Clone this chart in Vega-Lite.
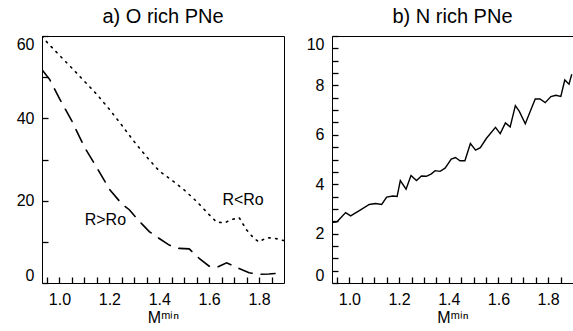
{
  "$schema": "https://vega.github.io/schema/vega-lite/v6.json",
  "padding": {"left": 15, "top": 6, "right": 0, "bottom": 0},
  "background": "white",
  "bounds": "flush",
  "spacing": 48,
  "config": {
    "view": {"stroke": "black", "strokeWidth": 1},
    "axis": {"grid": false, "domain": false, "labelFontSize": 16, "labelColor": "black", "titleFontSize": 16, "titleFontWeight": "normal", "titleColor": "black", "tickColor": "#000", "tickWidth": 1.3, "tickSize": 6},
    "title": {"fontSize": 20, "fontWeight": "normal", "color": "black", "offset": 8}
  },
  "datasets": {
    "orich": [
      {"m": 0.93, "pct": 60.0, "group": "R<Ro"}, {"m": 0.95, "pct": 58.5, "group": "R<Ro"},
      {"m": 1.0, "pct": 55.3, "group": "R<Ro"}, {"m": 1.05, "pct": 52.2, "group": "R<Ro"},
      {"m": 1.1, "pct": 49.0, "group": "R<Ro"}, {"m": 1.15, "pct": 45.8, "group": "R<Ro"},
      {"m": 1.2, "pct": 42.2, "group": "R<Ro"}, {"m": 1.25, "pct": 38.3, "group": "R<Ro"},
      {"m": 1.3, "pct": 34.3, "group": "R<Ro"}, {"m": 1.35, "pct": 30.6, "group": "R<Ro"},
      {"m": 1.4, "pct": 27.2, "group": "R<Ro"}, {"m": 1.45, "pct": 25.0, "group": "R<Ro"},
      {"m": 1.5, "pct": 22.6, "group": "R<Ro"}, {"m": 1.55, "pct": 19.8, "group": "R<Ro"},
      {"m": 1.6, "pct": 16.6, "group": "R<Ro"}, {"m": 1.63, "pct": 14.8, "group": "R<Ro"},
      {"m": 1.66, "pct": 14.6, "group": "R<Ro"}, {"m": 1.69, "pct": 15.4, "group": "R<Ro"},
      {"m": 1.72, "pct": 15.9, "group": "R<Ro"}, {"m": 1.75, "pct": 12.9, "group": "R<Ro"},
      {"m": 1.78, "pct": 10.8, "group": "R<Ro"}, {"m": 1.8, "pct": 10.0, "group": "R<Ro"},
      {"m": 1.83, "pct": 11.0, "group": "R<Ro"}, {"m": 1.86, "pct": 10.9, "group": "R<Ro"},
      {"m": 1.9, "pct": 10.3, "group": "R<Ro"},
      {"m": 0.93, "pct": 51.8, "group": "R>Ro"}, {"m": 0.96, "pct": 49.5, "group": "R>Ro"},
      {"m": 1.0, "pct": 44.8, "group": "R>Ro"}, {"m": 1.05, "pct": 39.3, "group": "R>Ro"},
      {"m": 1.1, "pct": 33.0, "group": "R>Ro"}, {"m": 1.15, "pct": 28.0, "group": "R>Ro"},
      {"m": 1.2, "pct": 22.8, "group": "R>Ro"}, {"m": 1.25, "pct": 19.2, "group": "R>Ro"},
      {"m": 1.28, "pct": 17.8, "group": "R>Ro"}, {"m": 1.32, "pct": 15.0, "group": "R>Ro"},
      {"m": 1.36, "pct": 12.5, "group": "R>Ro"}, {"m": 1.4, "pct": 10.8, "group": "R>Ro"},
      {"m": 1.44, "pct": 9.2, "group": "R>Ro"}, {"m": 1.48, "pct": 8.4, "group": "R>Ro"},
      {"m": 1.52, "pct": 8.3, "group": "R>Ro"}, {"m": 1.56, "pct": 6.0, "group": "R>Ro"},
      {"m": 1.6, "pct": 4.1, "group": "R>Ro"}, {"m": 1.63, "pct": 3.8, "group": "R>Ro"},
      {"m": 1.67, "pct": 4.9, "group": "R>Ro"}, {"m": 1.71, "pct": 3.8, "group": "R>Ro"},
      {"m": 1.76, "pct": 2.5, "group": "R>Ro"}, {"m": 1.8, "pct": 2.1, "group": "R>Ro"},
      {"m": 1.84, "pct": 2.2, "group": "R>Ro"}, {"m": 1.88, "pct": 2.4, "group": "R>Ro"}
    ],
    "labels": [
      {"m": 1.736, "pct": 20.2, "label": "R<Ro"},
      {"m": 1.184, "pct": 15.3, "label": "R>Ro"}
    ],
    "nrich": [
      {"m": 0.93, "pct": 2.45}, {"m": 0.95, "pct": 2.48}, {"m": 0.985, "pct": 2.85},
      {"m": 1.005, "pct": 2.72}, {"m": 1.04, "pct": 2.93}, {"m": 1.08, "pct": 3.18},
      {"m": 1.105, "pct": 3.22}, {"m": 1.13, "pct": 3.18}, {"m": 1.15, "pct": 3.48},
      {"m": 1.175, "pct": 3.52}, {"m": 1.192, "pct": 3.5}, {"m": 1.205, "pct": 4.15},
      {"m": 1.228, "pct": 3.8}, {"m": 1.248, "pct": 4.35}, {"m": 1.27, "pct": 4.15},
      {"m": 1.29, "pct": 4.33}, {"m": 1.31, "pct": 4.32}, {"m": 1.33, "pct": 4.42},
      {"m": 1.345, "pct": 4.55}, {"m": 1.365, "pct": 4.52}, {"m": 1.385, "pct": 4.65},
      {"m": 1.41, "pct": 5.02}, {"m": 1.427, "pct": 5.08}, {"m": 1.445, "pct": 4.95},
      {"m": 1.465, "pct": 4.95}, {"m": 1.487, "pct": 5.65}, {"m": 1.508, "pct": 5.38},
      {"m": 1.527, "pct": 5.48}, {"m": 1.551, "pct": 5.85}, {"m": 1.588, "pct": 6.3},
      {"m": 1.607, "pct": 6.05}, {"m": 1.628, "pct": 6.48}, {"m": 1.647, "pct": 6.32},
      {"m": 1.668, "pct": 7.18}, {"m": 1.684, "pct": 6.95}, {"m": 1.708, "pct": 6.45},
      {"m": 1.724, "pct": 6.85}, {"m": 1.748, "pct": 7.45}, {"m": 1.767, "pct": 7.45},
      {"m": 1.788, "pct": 7.3}, {"m": 1.811, "pct": 7.55}, {"m": 1.831, "pct": 7.6},
      {"m": 1.851, "pct": 7.55}, {"m": 1.867, "pct": 8.22}, {"m": 1.884, "pct": 8.05},
      {"m": 1.895, "pct": 8.45}
    ]
  },
  "hconcat": [
    {
      "width": 242, "height": 247,
      "title": {"text": "a) O rich PNe"},
      "encoding": {
        "x": {"field": "m", "type": "quantitative", "scale": {"domain": [0.93, 1.9], "nice": false, "zero": false},
          "axis": {"offset": -6, "labelPadding": 8, "title": "Mᵐⁱⁿ", "values": [0.95,1,1.05,1.1,1.15,1.2,1.25,1.3,1.35,1.4,1.45,1.5,1.55,1.6,1.65,1.7,1.75,1.8,1.85],
            "labelExpr": "abs(datum.value*5 - round(datum.value*5)) < 0.001 ? format(datum.value, '.1f') : ''", "titlePadding": 2}},
        "y": {"field": "pct", "type": "quantitative", "scale": {"domain": [0, 60], "nice": false},
          "axis": {"offset": -6, "labelPadding": 8, "title": null, "values": [0,10,20,30,40,50,60],
            "labelExpr": "datum.value % 20 == 0 ? format(datum.value, 'd') : ''", "labelFlush": true}}
      },
      "layer": [
        {
          "data": {"name": "orich"},
          "mark": {"type": "line", "color": "black", "strokeWidth": 1.6, "strokeCap": "round", "clip": true},
          "encoding": {
            "strokeDash": {"field": "group", "type": "nominal", "scale": {"domain": ["R<Ro", "R>Ro"], "range": [[1.5, 5.5], [14, 9]]}, "legend": null}
          }
        },
        {
          "data": {"name": "labels"},
          "mark": {"type": "text", "fontSize": 16, "color": "black"},
          "encoding": {
            "text": {"field": "label"}
          }
        }
      ]
    },
    {
      "width": 241, "height": 247,
      "title": {"text": "b) N rich PNe"},
      "data": {"name": "nrich"},
      "mark": {"type": "line", "color": "black", "strokeWidth": 1.4, "clip": true},
      "encoding": {
        "x": {"field": "m", "type": "quantitative", "scale": {"domain": [0.93, 1.9], "nice": false, "zero": false},
          "axis": {"offset": -6, "labelPadding": 8, "title": "Mᵐⁱⁿ", "values": [0.95,1,1.05,1.1,1.15,1.2,1.25,1.3,1.35,1.4,1.45,1.5,1.55,1.6,1.65,1.7,1.75,1.8,1.85],
            "labelExpr": "abs(datum.value*5 - round(datum.value*5)) < 0.001 ? format(datum.value, '.1f') : ''", "titlePadding": 2}},
        "y": {"field": "pct", "type": "quantitative", "scale": {"domain": [0, 10], "nice": false},
          "axis": {"offset": -6, "labelPadding": 8, "title": null, "values": [0,0.5,1,1.5,2,2.5,3,3.5,4,4.5,5,5.5,6,6.5,7,7.5,8,8.5,9,9.5,10],
            "labelExpr": "datum.value % 2 == 0 ? format(datum.value, 'd') : ''", "labelFlush": true}}
      }
    }
  ]
}
